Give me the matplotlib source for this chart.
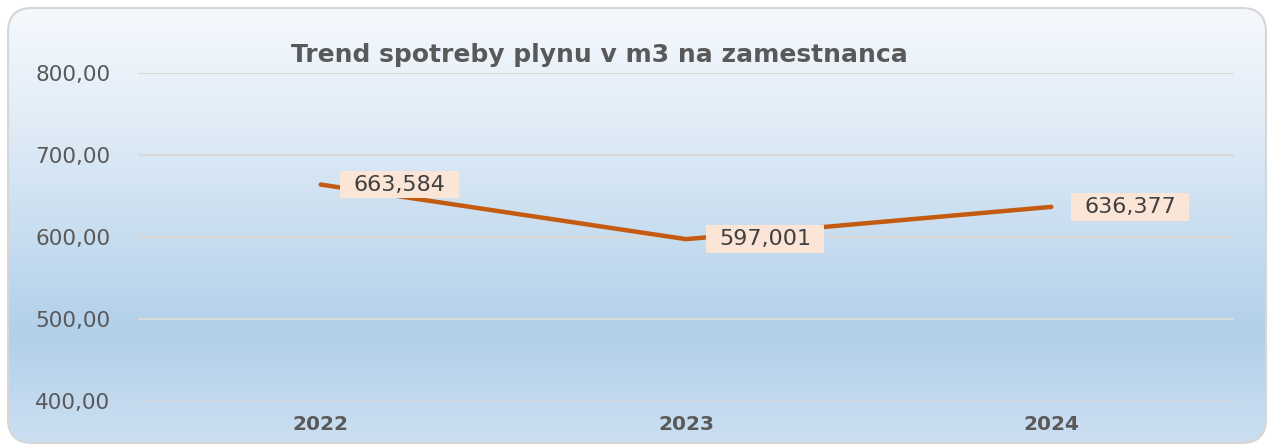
import matplotlib
matplotlib.use("Agg")
import matplotlib.pyplot as plt
import numpy as np
from matplotlib.patches import FancyBboxPatch
from matplotlib.colors import LinearSegmentedColormap
from matplotlib.path import Path

# ---- data ----
years = ["2022", "2023", "2024"]
values = [663.584, 597.001, 636.377]
value_labels = ["663,584", "597,001", "636,377"]
y_ticks = [400, 500, 600, 700, 800]
y_tick_labels = ["400,00", "500,00", "600,00", "700,00", "800,00"]
title = "Trend spotreby plynu v m3 na zamestnanca"

W, H = 1268, 444
plt.rcParams['font.family'] = ['DejaVu Sans']
fig = plt.figure(figsize=(W / 100, H / 100), dpi=100)
fig.patch.set_facecolor("white")

# background panel with gradient (pixel coordinates, y downwards)
bg = fig.add_axes([0, 0, 1, 1], zorder=-5)
bg.set_xlim(0, W)
bg.set_ylim(H, 0)
bg.axis("off")
x0, y0, x1, y1 = 8, 8, 1266, 443
r = 24
cmap = LinearSegmentedColormap.from_list(
    "bgrad",
    [(0.0, "#F5F9FD"), (0.25, "#E2EDF7"), (0.75, "#B2D0EA"), (1.0, "#CCDFF1")])
grad = np.linspace(0, 1, 256).reshape(-1, 1)
im = bg.imshow(grad, cmap=cmap, aspect="auto", extent=(x0, x1, y1, y0),
               interpolation="bilinear")
panel = FancyBboxPatch((x0 + r, y0 + r), (x1 - x0) - 2 * r, (y1 - y0) - 2 * r,
                       boxstyle=f"round,pad={r}", facecolor="none",
                       edgecolor="#D6D6D6", linewidth=1.5, zorder=3)
bg.add_patch(panel)
im.set_clip_path(panel)

# main axes: x from 138 to 1234 px, y from 73 (800) to 400.7 (400)
left, right = 138, 1234
top, bottom = 72.7, 400.7
ax = fig.add_axes([left / W, (H - bottom) / H, (right - left) / W, (bottom - top) / H])
ax.set_facecolor("none")
ax.patch.set_alpha(0)
ax.set_xlim(-0.5, len(years) - 0.5)
ax.set_ylim(400, 800)
for s in ax.spines.values():
    s.set_visible(False)

ax.set_yticks(y_ticks)
ax.set_yticklabels(y_tick_labels, fontsize=15.5, color="#595959")
ax.set_xticks(range(len(years)))
ax.set_xticklabels(years, fontsize=14.5, fontweight="bold", color="#595959")
ax.tick_params(axis="y", length=0, pad=20)
ax.tick_params(axis="x", length=0, pad=10)
ax.grid(axis="y", color="#D9D9D9", linewidth=1.6)
ax.set_axisbelow(True)

xs = np.arange(len(years))
ax.plot(xs, values, color="#C55A11", linewidth=3.2, solid_capstyle="round",
        solid_joinstyle="round", zorder=3)


def label_box(x, y, width, height, mutation_size):
    px = 0.6 * mutation_size
    py = 0.17 * mutation_size
    xa, ya = x - px, y - py
    xb, yb = x + width + px, y + height + py
    return Path([(xa, ya), (xb, ya), (xb, yb), (xa, yb), (xa, ya)],
                closed=True)


for x, v, lab in zip(xs, values, value_labels):
    ax.annotate(lab, xy=(x, v), xytext=(33, 0), textcoords="offset pixels",
                ha="left", va="center", fontsize=16, color="#404040", zorder=4,
                bbox=dict(boxstyle=label_box, facecolor="#FBE5D6",
                          edgecolor="none"))

fig.text(599 / W, 1 - 55 / H, title, ha="center", va="center",
         fontsize=18, fontweight="bold", color="#595959")

fig.savefig("out.png", dpi=100)
